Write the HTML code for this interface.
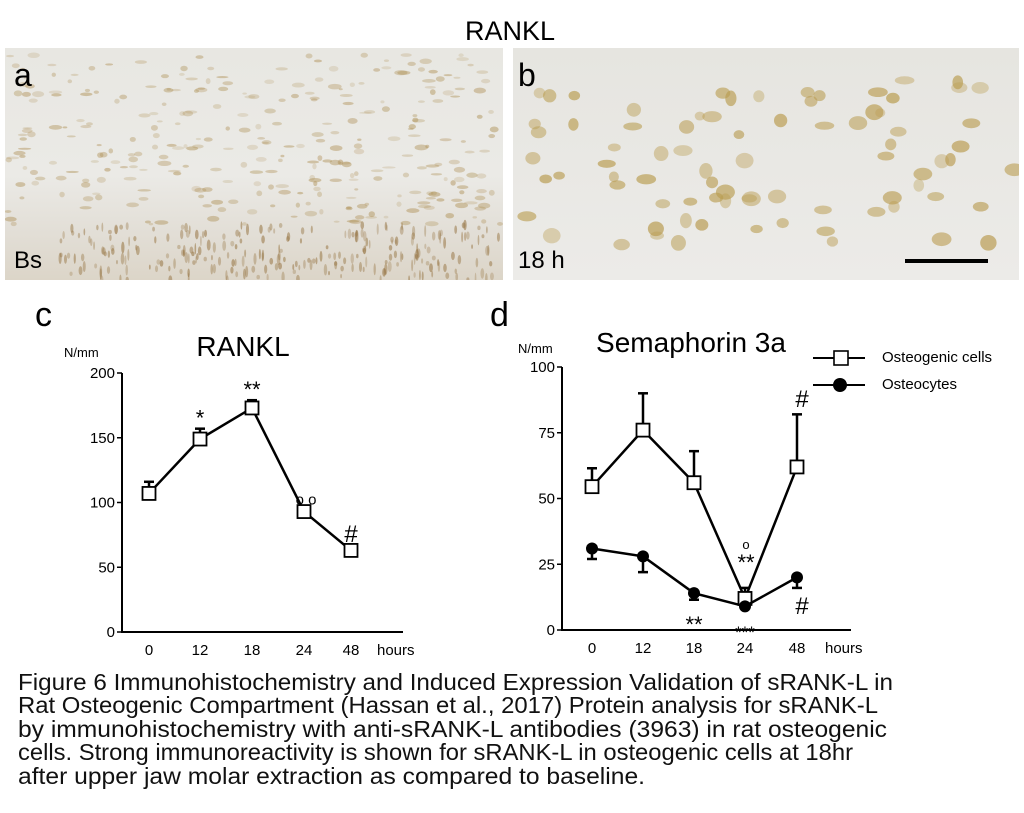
<!DOCTYPE html>
<html><head><meta charset="utf-8">
<style>
html,body{margin:0;padding:0;background:#fff;}
svg{display:block;font-family:"Liberation Sans",sans-serif;}
</style></head>
<body>
<svg id="fig" width="1024" height="813" viewBox="0 0 1024 813" xmlns="http://www.w3.org/2000/svg">
  <defs>
    <linearGradient id="gA" x1="0" y1="0" x2="0" y2="1">
      <stop offset="0" stop-color="#e8e7e2"/><stop offset="0.55" stop-color="#ebeae6"/><stop offset="0.8" stop-color="#e2ded6"/><stop offset="1" stop-color="#dcd5c8"/>
    </linearGradient>
    <linearGradient id="gB" x1="0" y1="0" x2="0" y2="1">
      <stop offset="0" stop-color="#e6e5e0"/><stop offset="1" stop-color="#ecebe8"/>
    </linearGradient>
    <clipPath id="cA"><rect x="5" y="48" width="498" height="232"/></clipPath>
    <clipPath id="cB"><rect x="513" y="48" width="506" height="232"/></clipPath>
  </defs>
  <text x="510" y="40" font-size="27" text-anchor="middle">RANKL</text>
  <g id="panelA" clip-path="url(#cA)">
    <rect x="5" y="48" width="498" height="232" fill="url(#gA)"/>
  </g>
  <g id="panelB" clip-path="url(#cB)">
    <rect x="513" y="48" width="506" height="232" fill="url(#gB)"/>
  </g>
  <text x="14" y="86" font-size="32">a</text>
  <text x="518" y="86" font-size="32">b</text>
  <text x="14" y="268" font-size="24">Bs</text>
  <text x="518" y="268" font-size="24">18 h</text>
  <rect x="905" y="259" width="83" height="4" fill="#000"/>

  <text x="35" y="326" font-size="34">c</text>
  <text x="490" y="326" font-size="34">d</text>
  <text x="243" y="356" font-size="28" text-anchor="middle">RANKL</text>
  <text x="691" y="352" font-size="28" text-anchor="middle">Semaphorin 3a</text>
  <text x="64" y="357" font-size="13">N/mm</text>
  <text x="518" y="353" font-size="13">N/mm</text>

  <g id="chartC"></g>
  <g id="chartD"></g>

  <g>
    <g>
      <line x1="813" y1="358" x2="865" y2="358" stroke="#000" stroke-width="2"/>
      <rect x="834" y="351" width="14" height="14" fill="#fff" stroke="#000" stroke-width="1.6"/>
      <text x="882" y="362" font-size="15">Osteogenic cells</text>
    </g>
    <g>
      <line x1="813" y1="385" x2="865" y2="385" stroke="#000" stroke-width="2"/>
      <circle cx="840" cy="385" r="7" fill="#000"/>
      <text x="882" y="389" font-size="15">Osteocytes</text>
    </g>
  </g>

  <g font-size="23" fill="#111">
    <text x="18" y="690" textLength="875" lengthAdjust="spacingAndGlyphs">Figure 6 Immunohistochemistry and Induced Expression Validation of sRANK-L in</text>
    <text x="18" y="713" textLength="860" lengthAdjust="spacingAndGlyphs">Rat Osteogenic Compartment (Hassan et al., 2017) Protein analysis for sRANK-L</text>
    <text x="18" y="737" textLength="869" lengthAdjust="spacingAndGlyphs">by immunohistochemistry with anti-sRANK-L antibodies (3963) in rat osteogenic</text>
    <text x="18" y="760" textLength="835" lengthAdjust="spacingAndGlyphs">cells. Strong immunoreactivity is shown for sRANK-L in osteogenic cells at 18hr</text>
    <text x="18" y="784" textLength="627" lengthAdjust="spacingAndGlyphs">after upper jaw molar extraction as compared to baseline.</text>
  </g>
</svg>
<script>
// ---- Chart data ----
const categories = ["0","12","18","24","48"];
const rankl = [107,149,173,93,63];
const ranklErr = [9,8,6,4,4];
const ranklMarks = ["","*","**","o o","#"];
const ranklTicks = [0,50,100,150,200];
const semaOsteogenic = [54.5,76,56,12,62];
const semaOsteogenicErr = [7,14,12,4,20];
const semaOsteocytes = [31,28,14,9,20];
const semaOsteocytesErr = [4,6,2.5,0,4];
const semaTicks = [0,25,50,75,100];

const NS = "http://www.w3.org/2000/svg";
function mk(tag, attrs, parent){
  const e = document.createElementNS(NS, tag);
  for (const k in attrs) e.setAttribute(k, attrs[k]);
  parent.appendChild(e); return e;
}

// decorative micrograph speckles (not data)
(function(){
  let s = 7;
  function rnd(){ s = (s*16807) % 2147483647; return s/2147483647; }
  const pa = document.getElementById('panelA');
  for (let i=0;i<320;i++){
    const e = mk('ellipse',{cx:8+rnd()*492, cy:55+rnd()*170, rx:2+rnd()*5, ry:1+rnd()*2, fill:'#b0935a', opacity:0.2+rnd()*0.3}, pa);
    
    
  }
  for (let i=0;i<260;i++){
    const e = mk('ellipse',{cx:60+rnd()*440, cy:225+rnd()*55, rx:0.8+rnd()*1.2, ry:2+rnd()*4, fill:'#9a7a4a', opacity:0.3+rnd()*0.3}, pa);
    
    
  }
  const pb = document.getElementById('panelB');
  for (let i=0;i<80;i++){
    const e = mk('ellipse',{cx:520+rnd()*495, cy:80+rnd()*170, rx:5+rnd()*5, ry:4+rnd()*4, fill:'#b99c50', opacity:0.35+rnd()*0.35}, pb);
    
    
  }
})();

function drawChart(g, cfg){
  const xPos = cfg.xPos;
  const y = v => cfg.y0 - (v - cfg.ymin)/(cfg.ymax-cfg.ymin)*(cfg.y0-cfg.y1);
  const ax = mk('path',{d:`M${cfg.ax} ${y(cfg.ymax)} V${cfg.y0} H${cfg.axEnd}`, fill:'none', stroke:'#000','stroke-width':2}, g);
  
  
  cfg.ticks.forEach(t=>{
    mk('line',{x1:cfg.ax-5,x2:cfg.ax,y1:y(t),y2:y(t),stroke:'#000','stroke-width':1.5},g);
    const tx = mk('text',{x:cfg.ax-7,y:y(t)+5,'font-size':15,'text-anchor':'end'},g);
    tx.textContent = t;
    
    
  });
  categories.forEach((c,i)=>{
    const tx = mk('text',{x:xPos(i),y:cfg.y0+23,'font-size':15,'text-anchor':'middle'},g);
    tx.textContent = c;
    
    
  });
  const h = mk('text',{x:cfg.axEnd-26,y:cfg.y0+23,'font-size':15},g);
  h.textContent = 'hours';
  
  
  cfg.series.forEach(s=>{
    const sg = mk('g',{},g);
    
    
    s.vals.forEach((v,i)=>{
      const e = s.err[i]; if(!e) return;
      const yy = y(v + s.dir*e);
      mk('line',{x1:xPos(i),x2:xPos(i),y1:y(v),y2:yy,stroke:'#000','stroke-width':2.5},sg);
      mk('line',{x1:xPos(i)-5,x2:xPos(i)+5,y1:yy,y2:yy,stroke:'#000','stroke-width':2.5},sg);
    });
    mk('polyline',{points:s.vals.map((v,i)=>xPos(i)+','+y(v)).join(' '),fill:'none',stroke:'#000','stroke-width':2.5},sg);
    s.vals.forEach((v,i)=>{
      let m;
      if (s.marker==='square') m = mk('rect',{x:xPos(i)-6.5,y:y(v)-6.5,width:13,height:13,fill:'#fff',stroke:'#000','stroke-width':1.8},sg);
      else m = mk('circle',{cx:xPos(i),cy:y(v),r:6,fill:'#000'},sg);
      
      
    });
  });
}

drawChart(document.getElementById('chartC'),{
  ax:122, axEnd:403, y0:632, y1:373, ymin:0, ymax:200, ticks:ranklTicks,
  xPos: i => [149,200,252,304,351][i],
  series:[{name:'rankl-series',vals:rankl,err:ranklErr,dir:1,marker:'square'}]
});
(function(){
  const g = document.getElementById('chartC');
  const xs=[149,200,252,304,351];
  const y = v => 632 - v/200*259;
  ranklMarks.forEach((m,i)=>{
    if(!m) return;
    const t = mk('text',{x:xs[i]+(i===3?2:0),y:y(rankl[i]+ranklErr[i])-(i===3?2:3),'font-size':m==='#'?24:(i===3?15:22),'text-anchor':'middle'},g);
    t.textContent = m;
    
    
  });
})();

drawChart(document.getElementById('chartD'),{
  ax:562, axEnd:851, y0:630, y1:367, ymin:0, ymax:100, ticks:semaTicks,
  xPos: i => [592,643,694,745,797][i],
  series:[
    {name:'osteogenic-cells-series',vals:semaOsteogenic,err:semaOsteogenicErr,dir:1,marker:'square'},
    {name:'osteocytes-series',vals:semaOsteocytes,err:semaOsteocytesErr,dir:-1,marker:'circle'}
  ]
});
(function(){
  const g = document.getElementById('chartD');
  const marks = [[802,407,'#',24],[746,549,'o',13],[746,570,'**',22],[802,614,'#',24],[694,632,'**',22],[745,638,'***',17]];
  marks.forEach(m=>{
    const t = mk('text',{x:m[0],y:m[1],'font-size':m[3],'text-anchor':'middle'},g);
    t.textContent = m[2];
    
    
  });
})();
</script>
</body></html>
